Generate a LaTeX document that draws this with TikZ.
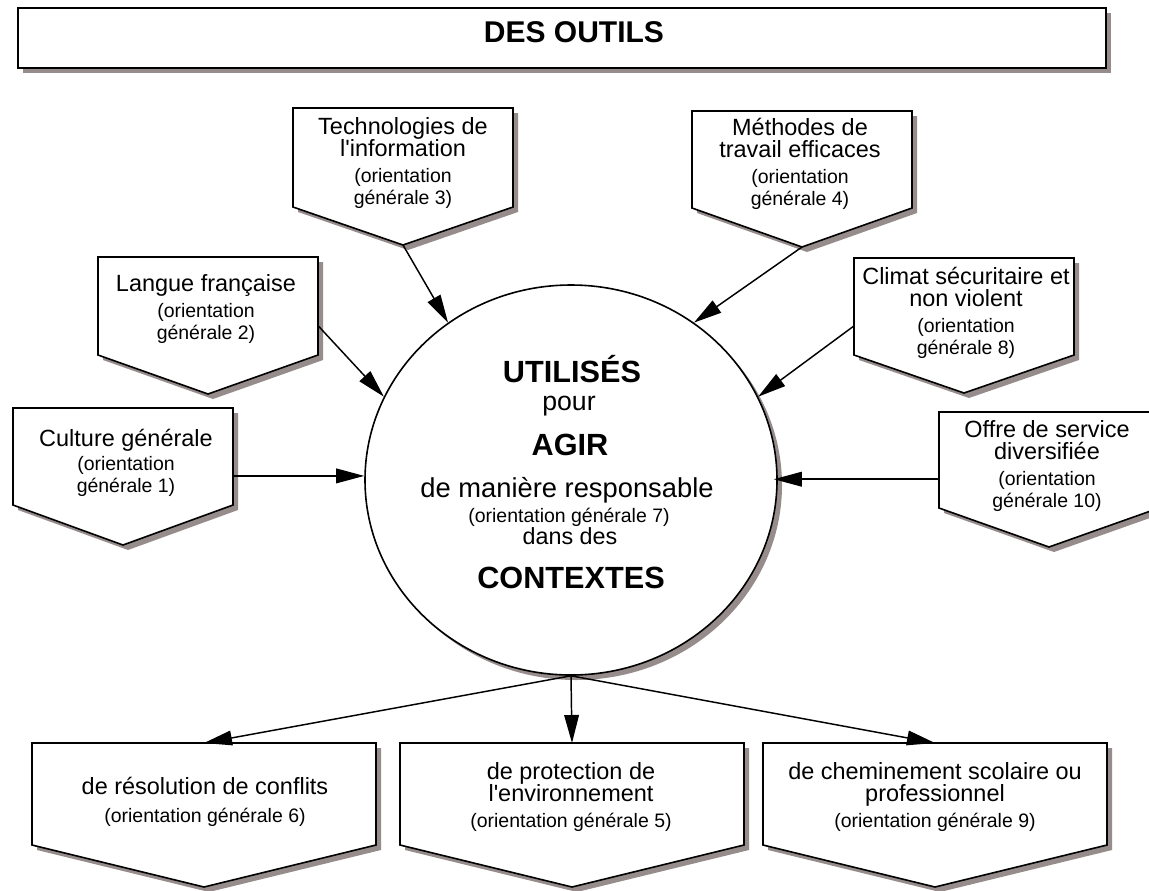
\documentclass[tikz,border=0pt]{standalone}
\usepackage{fontspec}
\setmainfont{Liberation Sans}[Ligatures=TeXOff]
\usetikzlibrary{shapes.geometric,arrows.meta}

\definecolor{ombre}{RGB}{150,140,140}

\newcommand\petit{\fontsize{14.6}{15.75}\selectfont}

% pentagone pointe en bas : nom, x centre, haut, demi-largeur, cote, pointe
\newcommand\pentagone[6]{%
  \path[boite] (#2-#4,#3) -- (#2+#4,#3) -- (#2+#4,#3+#5) -- (#2,#3+#5+#6) -- (#2-#4,#3+#5) -- cycle;
  \coordinate (#1-n) at (#2,#3);
  \coordinate (#1-s) at (#2,#3+#5+#6);
  \coordinate (#1-e) at (#2+#4,#3+0.7*#5);
  \coordinate (#1-w) at (#2-#4,#3+0.7*#5);
}

\tikzset{
  boite/.style={draw, fill=white, line width=1.2pt,
    preaction={fill=ombre, transform canvas={shift={(3.75pt,-3.75pt)}}}},
  texte/.style={align=center, font=\fontsize{17.6}{16.5}\selectfont, inner sep=0pt},
  fleche/.style={-{Triangle[length=21pt,width=11pt]}, line width=1.1pt},
  gras/.style={font=\fontsize{23}{27}\selectfont\bfseries, anchor=base}
}

\begin{document}
\begin{tikzpicture}[x=0.75pt,y=-0.75pt]

	\fill[white] (0,0) rectangle (1149,890);
	\useasboundingbox (0,0) rectangle (1149,890);

	% titre
	\path[boite] (18,8) rectangle (1106,68);
	\node[font=\fontsize{22.5}{27}\selectfont\bfseries] (outils) at (574,32) {DES OUTILS};

	% les boites
	\foreach \nom/\cx/\hy/\dx/\cote/\pte in {techno/403/108/110/99/38, methodes/802/111/110/97/39,
		langue/208/257/110/98/39, climat/964/258/110/97/38, culture/123/408/110/97/40,
		offre/1049/412/110/96/39, resolution/204/743/172/102/42, protection/572/743/172/102/42,
		chemin/935/743/172/102/42}
	{
		\pentagone{\nom}{\cx}{\hy}{\dx}{\cote}{\pte}
	}

	% le cercle
	\node[boite, ellipse, minimum width=309pt, minimum height=292.5pt, inner sep=0pt] (centre) at (571,480) {};

	\foreach \de/\vers in {techno-s/128, methodes-s/52, langue-e/156, climat-w/24}
		\draw[fleche] (\de) -- (centre.\vers);
	\draw[fleche] (culture-e) -- (culture-e -| centre.west);
	\draw[fleche, shorten >=-3pt] (offre-w) -- (offre-w -| centre.east);
	\foreach \b in {resolution, protection, chemin}
		\draw[fleche] (centre.south) -- (\b-n);

	% textes des boites
	\node[texte] (t-techno) at (403,163) {Technologies de\\l'information\\[3pt]\petit (orientation\\\petit générale 3)};
	\node[texte] (t-methodes) at (800,164) {Méthodes de\\travail efficaces\\[3pt]\petit (orientation\\\petit générale 4)};
	\node[texte] (t-langue) at (206,309) {Langue française\\[3pt]\petit (orientation\\\petit générale 2)};
	\node[texte] (t-climat) at (966,313) {Climat sécuritaire et\\non violent\\[3pt]\petit (orientation\\\petit générale 8)};
	\node[texte] (t-culture) at (126,463) {Culture générale\\[2pt]\petit (orientation\\\petit générale 1)};
	\node[texte] (t-offre) at (1047,466) {Offre de service\\diversifiée\\[3pt]\petit (orientation\\\petit générale 10)};
	\node[texte] (t-resolution) at (205,802) {de résolution de conflits\\[5pt]\petit (orientation générale 6)};
	\node[texte] (t-protection) at (571,797) {de protection de\\l'environnement\\[3pt]\petit (orientation générale 5)};
	\node[texte] (t-chemin) at (935,797) {de cheminement scolaire ou\\professionnel\\[3pt]\petit (orientation générale 9)};

	% texte du cercle
	\node[gras] (utilises) at (572,382) {UTILISÉS};
	\node[anchor=base, font=\fontsize{20}{24}\selectfont] (pour) at (569,410) {pour};
	\node[gras] (agir) at (570,455) {AGIR};
	\node[anchor=base, font=\fontsize{20.5}{24}\selectfont] (maniere) at (567,497) {de manière responsable};
	\node[anchor=base, font=\petit] (og7) at (569,522) {(orientation générale 7)};
	\node[anchor=base, font=\fontsize{17.5}{20}\selectfont] (dans) at (570,544) {dans des};
	\node[gras] (contextes) at (571,588) {CONTEXTES};

\end{tikzpicture}
\end{document}
